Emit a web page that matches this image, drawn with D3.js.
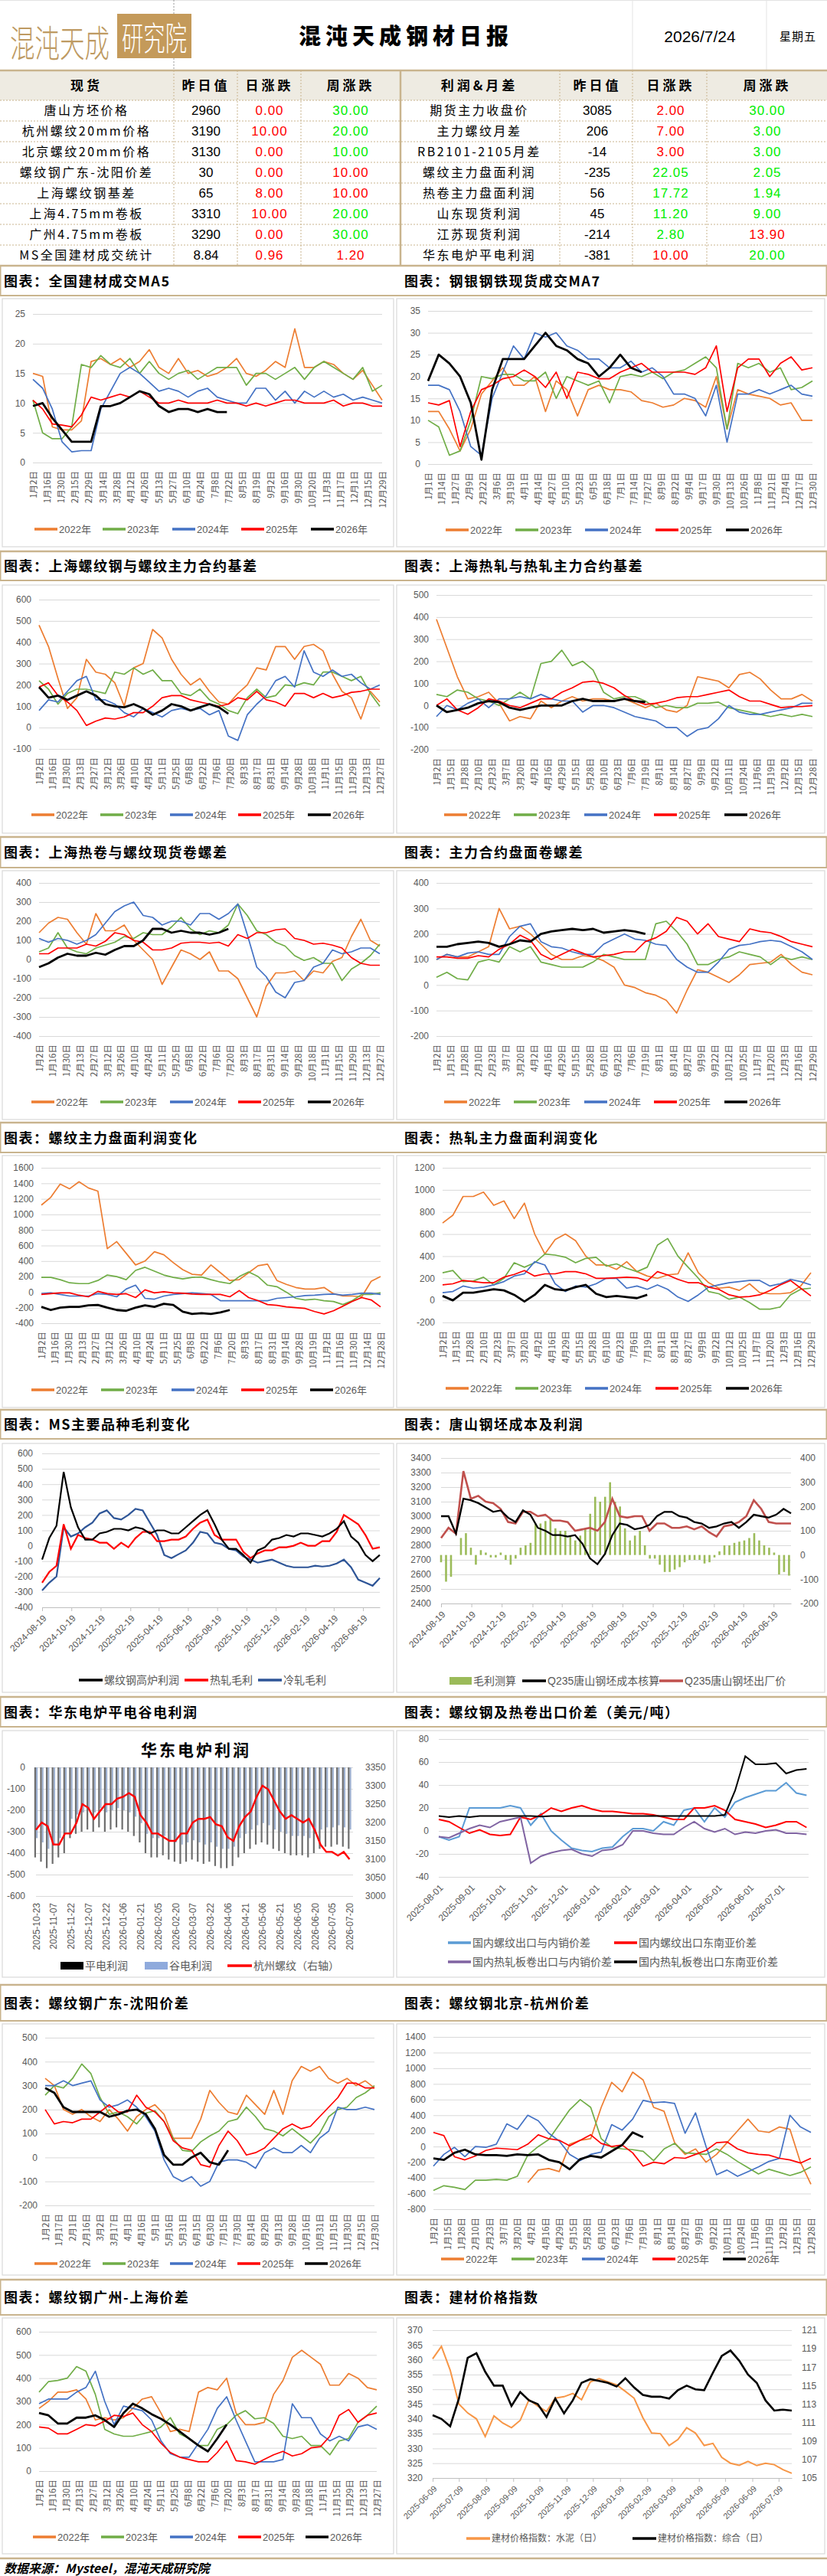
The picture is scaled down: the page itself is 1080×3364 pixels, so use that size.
<!DOCTYPE html>
<html><head><meta charset="utf-8">
<script src="https://cdn.jsdelivr.net/npm/d3@7"></script>
<style>body{margin:0;background:#fff;}svg{display:block;}</style>
</head><body>
<svg id="c" width="1080" height="3364"></svg>
<script>
// ================= DATA =================
const reportDate = "2026/7/24", reportWeekday = "星期五";
const spotNames = ["唐山方坯价格","杭州螺纹20mm价格","北京螺纹20mm价格","螺纹钢广东-沈阳价差","上海螺纹钢基差","上海4.75mm卷板","广州4.75mm卷板","MS全国建材成交统计"];
const spotPrev = ["2960","3190","3130","30","65","3310","3290","8.84"];
const spotDay = [0.00,10.00,0.00,0.00,8.00,10.00,0.00,0.96];
const spotDayDir = [1,1,1,1,1,1,1,1];
const spotWeek = [30.00,20.00,10.00,10.00,10.00,20.00,30.00,1.20];
const spotWeekDir = [-1,-1,-1,1,1,-1,-1,1];
const profNames = ["期货主力收盘价","主力螺纹月差","RB2101-2105月差","螺纹主力盘面利润","热卷主力盘面利润","山东现货利润","江苏现货利润","华东电炉平电利润"];
const profPrev = ["3085","206","-14","-235","56","45","-214","-381"];
const profDay = [2.00,7.00,3.00,22.05,17.72,11.20,2.80,10.00];
const profDayDir = [1,1,1,-1,-1,-1,-1,1];
const profWeek = [30.00,3.00,3.00,2.05,1.94,9.00,13.90,20.00];
const profWeekDir = [-1,-1,-1,-1,-1,-1,1,-1];

const years = [2022,2023,2024,2025,2026];
const labA = ["1月2日","1月16日","1月30日","2月15日","2月29日","3月14日","3月28日","4月12日","4月26日","5月13日","5月27日","6月10日","6月24日","7月8日","7月22日","8月5日","8月19日","9月2日","9月16日","9月30日","10月20日","11月3日","11月17日","12月1日","12月15日","12月29日"];
const labB = ["1月1日","1月14日","1月27日","2月9日","2月22日","3月6日","3月19日","4月1日","4月14日","4月27日","5月10日","5月23日","6月5日","6月18日","7月1日","7月14日","7月27日","8月9日","8月22日","9月4日","9月17日","9月30日","10月13日","10月26日","11月8日","11月21日","12月4日","12月17日","12月30日"];
const labC = ["1月2日","1月16日","1月30日","2月13日","2月27日","3月12日","3月26日","4月10日","4月24日","5月11日","5月25日","6月8日","6月22日","7月6日","7月20日","8月3日","8月17日","8月31日","9月14日","9月28日","10月18日","11月1日","11月15日","11月29日","12月13日","12月27日"];
const labD = ["1月2日","1月15日","1月28日","2月10日","2月23日","3月7日","3月20日","4月2日","4月16日","4月29日","5月15日","5月28日","6月10日","6月23日","7月6日","7月19日","8月1日","8月14日","8月27日","9月9日","9月22日","10月11日","10月24日","11月6日","11月19日","12月2日","12月15日","12月28日"];
const labE = ["1月2日","1月15日","1月28日","2月10日","2月23日","3月7日","3月20日","4月2日","4月16日","4月29日","5月15日","5月28日","6月10日","6月23日","7月6日","7月19日","8月1日","8月14日","8月27日","9月9日","9月22日","10月12日","10月25日","11月7日","11月20日","12月3日","12月16日","12月29日"];
const labF = ["1月2日","1月16日","1月30日","2月13日","2月27日","3月12日","3月26日","4月10日","4月24日","5月11日","5月25日","6月8日","6月22日","7月6日","7月20日","8月3日","8月17日","8月31日","9月14日","9月28日","10月19日","11月2日","11月16日","11月30日","12月14日","12月28日"];
const labG = ["1月2日","1月17日","2月1日","2月16日","3月2日","3月17日","4月1日","4月16日","5月1日","5月16日","5月31日","6月15日","6月30日","7月15日","7月30日","8月14日","8月29日","9月13日","9月28日","10月16日","10月31日","11月15日","11月30日","12月15日","12月30日"];

// 全国建材成交MA5
const c1_2022 = [15,14.5,6,5.5,5.5,7,17,17.5,16.5,17.5,16,17,19,16,15,17.5,15,15.5,14.5,15,16,17.5,15,14.5,15.5,17,16,22.5,16,16,17,16.5,15,14,15.5,13,10.5];
const c1_2023 = [10.5,5,4,4,6,16.5,16,18,16.5,16,17.5,15,17,15,14,15,15.5,14,15,16,16,16,13,15,15,14,15,16,14,16,17,16,15,14,16,12,13];
const c1_2024 = [14,12.5,9,3.5,1.8,2,2,9,12,15,16,15,13.5,12,12.5,12,11,12,12.5,11,10.5,10,10,12.5,12.5,10.5,12,10,12,11,12,11,11.5,10.5,11,10.5,10];
const c1_2025 = [10.5,9,6.5,6.3,6,8,11,10.5,11,11.5,11,12,11,10,10,10.5,10,10,10,10.5,10,10,9.5,10,9.5,10,10.5,10.5,10,10,10,10.5,9.5,10,10,9.5,9.5];
const c1_2026 = [9.5,10,7.5,5.5,3.5,3.5,3.5,9.5,9.5,10,11,12,11.5,9.5,8.5,9,9,8.5,9,8.5,8.5];
// 钢银钢铁现货成交MA7
const c2_2022 = [12,12,8,3,8,16,19,22,18,18,20,12,19,17,11,17,18,17,17,16.5,14.5,14,13,13.5,15,14.5,13,20,8,17,16,15.5,15,13.5,14,10,10];
const c2_2023 = [10,8.5,2,3,10,20,19.5,20.5,20.5,19,19,21,15,20,19,18,19,14,20,20.5,20,21,19.5,21,21.5,23,24.5,22,8,23,22,23,21,22,17,17.5,19];
const c2_2024 = [18,18,17,12,4,2,15,21,27,24,30,29,30,27,26,24,24,22,22,23.5,21,22,20,16,16,15,11,18,5,16,16,17,16,17,18,16,15.5];
const c2_2025 = [14,13.5,14.5,4,12,17,18,19.5,20,21.5,20,17.5,21,15,21,20.5,19.5,19.5,21,22,23,21,21,21,21,20.5,22,27,12,22,24,24,20,23,24.5,21.5,22];
const c2_2026 = [19,25,23,20,14,1,17,24,24,24,27,30,27,26,24,23,20,22,25,22,21];
// 上海螺纹钢与螺纹主力合约基差
const c3_2022 = [480,380,230,90,140,320,260,250,210,100,280,300,460,420,320,250,200,230,170,120,110,160,200,280,270,380,380,320,380,390,360,250,170,140,40,170,120];
const c3_2023 = [220,180,110,160,180,180,170,160,260,250,280,250,270,220,220,160,150,180,130,110,80,65,140,180,140,150,200,195,210,200,260,260,240,220,240,160,100];
const c3_2024 = [80,130,120,170,220,240,130,130,110,70,50,90,70,50,80,90,80,90,60,80,-40,-60,60,110,150,220,240,190,360,260,240,270,240,250,210,180,200];
const c3_2025 = [190,210,150,120,80,10,30,45,40,50,70,70,100,140,150,150,130,120,110,100,110,140,130,170,130,120,100,160,160,140,160,140,150,165,170,180,180];
const c3_2026 = [190,140,150,130,150,170,150,110,100,95,110,90,60,80,110,100,80,95,110,95,65];
// 上海热轧与热轧主力合约基差
const c4_2022 = [390,260,130,30,40,60,10,-70,-50,-60,20,-10,20,40,20,30,30,20,30,10,-10,10,-20,-30,0,130,120,110,80,140,150,120,70,30,30,50,20];
const c4_2023 = [50,40,70,60,30,20,0,30,60,30,190,200,250,180,200,160,60,30,40,40,20,-10,0,-10,-10,10,10,15,-10,-20,-30,-40,-50,-40,-50,-40,-50];
const c4_2024 = [-50,0,-20,10,30,-10,30,30,40,30,50,30,20,20,-30,0,0,-10,-30,-50,-60,-70,-100,-100,-140,-110,-100,-60,0,-30,-40,-40,-30,-20,-10,10,10];
const c4_2025 = [0,30,-20,-40,-10,30,20,0,-10,10,30,30,60,80,105,110,100,80,45,20,5,10,20,35,40,40,50,60,70,40,20,20,5,-10,-5,-5,0];
const c4_2026 = [0,-30,-20,-10,10,20,15,-10,-20,-10,0,0,0,20,30,20,20,20,30,20,15];
// 上海热卷与螺纹现货卷螺差
const c5_2022 = [140,190,220,210,140,80,240,150,150,180,100,50,0,-130,-40,50,30,0,40,-60,-60,-100,-200,-300,-140,-70,-70,-60,-110,-60,-70,-10,10,120,210,100,70];
const c5_2023 = [40,60,140,60,40,30,60,75,90,120,110,140,130,130,170,220,160,130,150,140,180,290,230,150,130,90,70,20,-5,10,-20,-20,-110,-50,-20,20,80];
const c5_2024 = [110,90,110,100,80,100,130,190,250,280,300,230,220,180,200,200,180,240,240,210,240,290,130,-40,-90,-170,-200,-120,-110,-40,-20,50,30,40,60,60,30];
const c5_2025 = [30,30,60,60,60,80,70,95,140,130,100,90,50,50,60,85,90,90,85,90,70,130,110,140,140,155,160,110,100,80,85,75,60,10,-20,-30,-30];
const c5_2026 = [-40,-20,10,30,20,20,35,25,50,70,70,100,160,160,140,150,140,140,130,140,160];
// 主力合约盘面卷螺差
const c6_2022 = [100,120,110,110,130,150,300,220,230,200,160,120,100,100,115,110,95,70,0,-10,-30,-40,-60,-110,-20,60,50,30,10,40,80,85,90,120,80,50,40];
const c6_2023 = [30,50,25,20,90,100,90,150,130,150,90,80,70,70,70,90,120,110,100,100,100,240,250,210,160,80,80,100,110,130,120,110,80,110,100,110,100];
const c6_2024 = [100,120,110,125,130,120,120,190,230,240,170,150,145,130,120,120,160,180,200,180,175,160,155,100,70,50,50,90,140,155,160,170,175,170,150,130,100];
const c6_2025 = [110,110,105,105,115,110,140,160,195,175,120,100,120,140,125,110,115,120,130,130,170,185,210,265,250,200,240,190,180,170,220,210,205,190,170,160,150];
const c6_2026 = [150,150,160,165,170,165,150,160,175,170,200,210,215,220,215,220,205,210,215,210,200];
// 螺纹主力盘面利润变化
const c7_2022 = [1120,1220,1390,1330,1420,1340,1300,560,650,500,350,400,520,480,380,290,230,220,350,250,150,160,250,340,360,150,100,60,40,40,60,-20,-50,-50,-60,140,200];
const c7_2023 = [190,190,160,120,110,110,150,220,200,160,280,320,270,220,190,170,190,195,160,130,110,200,260,200,90,70,0,-80,-100,-90,-110,-120,-160,-110,-30,-30,-10];
const c7_2024 = [-20,-10,-30,-50,-50,-50,-20,-30,-60,40,90,-80,-90,-50,-30,-20,-10,-20,-30,-110,-110,-110,-110,-110,-110,-80,-70,-60,-45,-40,-30,-25,-40,-30,-15,-15,-30];
const c7_2025 = [-30,-20,-10,-10,-40,-60,10,-20,-30,-20,-70,30,-10,5,-10,-15,-25,-30,-30,-30,-60,20,-70,-110,-160,-170,-190,-200,-210,-250,-280,-240,-180,-120,-70,-100,-190];
const c7_2026 = [-190,-230,-200,-190,-190,-170,-165,-200,-230,-240,-200,-170,-190,-150,-165,-250,-280,-270,-280,-260,-230];
// 热轧主力盘面利润变化
const c8_2022 = [700,770,940,940,980,860,900,740,880,600,420,550,600,540,400,320,320,280,350,260,220,200,230,240,430,250,160,110,120,90,150,70,60,60,70,130,250];
const c8_2023 = [250,270,170,175,210,140,200,340,300,340,420,410,390,340,380,390,310,330,290,260,300,500,560,400,300,200,80,60,10,30,-20,-80,-80,-60,50,100,110];
const c8_2024 = [70,80,130,110,120,140,170,220,240,350,320,150,80,130,120,150,200,200,110,130,100,140,100,30,-10,50,120,140,160,170,180,180,130,150,190,170,140];
const c8_2025 = [140,150,180,170,160,160,210,235,270,220,240,240,260,260,240,200,200,205,210,205,175,260,230,190,160,160,120,100,50,30,35,50,90,140,180,110,40];
const c8_2026 = [40,0,70,70,85,100,90,50,-10,50,140,100,90,120,140,60,30,40,30,20,50];
// MS主要品种毛利变化 (2024-08-19 起，约15天一个点)
const msStart = "2024-08-19", msEnd = "2026-07-24";
const msRebarBF = [-90,50,130,480,250,120,40,40,80,90,110,110,100,120,110,80,100,100,80,80,120,160,200,230,140,40,-20,-20,-60,-110,-30,-10,40,50,70,60,80,80,70,60,80,110,160,60,20,-60,-100,-60];
const msHotRolled = [-240,-170,-130,140,-20,70,50,40,20,20,-20,20,-10,50,90,90,30,30,40,40,60,110,150,170,70,40,40,40,-40,-80,-50,-30,-30,-10,-10,0,20,0,0,30,30,90,200,170,140,70,-20,-10];
const msColdRolled = [-290,-240,-200,120,60,80,120,150,210,230,180,170,200,240,230,150,70,-60,-80,-55,-30,20,90,80,20,10,-20,-30,-70,-90,-110,-100,-90,-110,-130,-140,-140,-140,-130,-135,-130,-115,-90,-140,-220,-240,-260,-210];
// 唐山钢坯成本及利润
const tsCost = [3000,3000,2880,3120,3110,3090,3060,3030,3040,2990,2960,3040,3010,2920,2900,2870,2870,2860,2870,2810,2710,2670,2740,2870,2950,2940,2910,2920,2940,3000,3030,3030,3000,2990,2960,2950,2920,2930,2950,2960,2920,2960,3010,3000,2990,3010,3050,3020];
const tsPrice = [2850,2920,2880,3310,3120,3140,3100,3090,3050,2960,2950,3030,3030,3000,3010,2970,2970,2960,2900,2910,2920,2900,2960,3120,3000,2990,3000,3000,2900,2950,2950,2920,2920,2930,2910,2930,2890,2860,2930,2940,2960,3000,3110,3050,2960,2950,2950,2950];
const tsMargin = [-30,-110,-90,0,70,90,30,-40,20,10,-10,-10,10,-20,-40,-15,30,40,50,130,130,140,150,110,100,100,80,60,80,110,170,240,220,240,300,220,200,110,60,80,100,40,-15,-15,-40,-70,-70,-60,-50,-30,-20,-20,-20,-35,-30,-10,15,40,40,50,55,60,70,90,60,40,30,10,-80,-70,-85];
// 华东电炉平电谷电利润 (2025-10-23 起，5天一个点)
const eafStart = "2025-10-23";
const eafFlat = [-420,-440,-470,-450,-420,-400,-330,-310,-300,-290,-300,-280,-300,-290,-280,-290,-300,-320,-350,-400,-420,-420,-410,-430,-440,-450,-440,-430,-440,-450,-440,-460,-470,-470,-460,-420,-400,-380,-360,-350,-360,-380,-390,-400,-410,-410,-410,-420,-400,-380,-370,-370,-360,-370,-380];
const eafValley = [-330,-350,-380,-360,-330,-310,-240,-220,-210,-200,-210,-190,-210,-200,-190,-200,-210,-230,-260,-310,-330,-330,-320,-340,-350,-360,-350,-340,-350,-360,-350,-370,-380,-380,-370,-330,-310,-290,-270,-260,-270,-290,-300,-310,-320,-320,-320,-330,-310,-290,-280,-280,-270,-280,-290];
const eafRebarHZ = [3180,3200,3190,3140,3140,3170,3170,3200,3250,3240,3210,3230,3250,3250,3265,3270,3280,3270,3220,3200,3170,3170,3160,3150,3150,3170,3170,3200,3210,3210,3215,3195,3190,3160,3150,3190,3215,3230,3270,3300,3290,3260,3230,3210,3220,3210,3200,3210,3180,3140,3120,3120,3110,3120,3100];
// 螺纹钢及热卷出口价差 (2025-08-01 起，10天一个点)
const expStart = "2025-08-01";
const expRebarDom = [-5,-8,-5,20,20,20,20,22,20,5,15,0,-8,-15,-17,-18,-15,-14,-5,2,2,0,8,5,18,20,8,20,12,25,29,32,35,35,42,33,31];
const expRebarSEA = [10,8,3,-2,1,-3,-4,-3,12,10,14,20,17,20,22,19,17,17,16,15,15,14,12,10,10,20,20,22,18,10,8,6,3,5,8,8,3];
const expHotDom = [-5,-6,-2,2,5,3,8,10,12,-28,-22,-19,-17,-16,-20,-22,-17,-16,-12,0,0,-2,-3,-3,3,8,2,-1,2,-3,-1,-2,0,1,-2,-2,-3];
const expHotSEA = [13,12,13,12,13,13,13,13,13,13,12.5,13,13,13,13,13,13,13,13,13,13,13,13,13,13,13,13,13,14,35,65,58,58,59,50,53,54];
// 螺纹钢广东-沈阳价差
const c13_2022 = [330,300,200,180,200,170,150,200,160,110,170,200,220,180,80,80,80,160,280,230,190,180,260,220,180,280,180,320,380,360,380,330,310,330,300,320,290];
const c13_2023 = [260,300,290,330,390,350,250,180,190,170,140,185,195,150,80,30,25,65,90,110,150,160,210,170,120,110,90,120,90,60,100,170,200,210,250,270,300];
const c13_2024 = [300,300,320,300,310,320,240,210,220,240,210,170,110,-10,-80,-100,-80,-120,-100,-20,-10,-10,-20,-45,20,40,20,20,50,20,80,110,210,200,200,210,200];
const c13_2025 = [200,140,150,145,160,160,190,220,190,190,260,210,190,150,70,40,30,-30,-40,50,110,70,10,20,40,80,120,140,120,130,170,210,250,310,310,290,290];
const c13_2026 = [290,270,210,190,190,190,190,170,180,195,200,180,120,10,-30,-30,0,20,-20,-30,30];
// 螺纹钢北京-杭州价差
const c14_2022 = [null,null,null,null,null,null,null,null,null,-460,-300,-280,-320,30,80,100,500,820,700,950,850,500,450,50,-100,-30,-200,-100,50,200,350,200,180,250,220,-200,-480];
const c14_2023 = [-560,-500,-520,-550,-430,-430,-420,-430,-380,-110,0,90,280,470,600,500,100,-10,-30,-40,-60,-180,-30,40,-80,-90,-100,-30,-100,-190,-270,-350,-290,-330,-370,-330,-260];
const c14_2024 = [-250,-100,-10,-130,0,-10,30,290,220,400,330,170,70,-100,-180,-100,-70,280,210,350,590,560,570,550,170,430,0,-360,-300,-380,-320,-260,-190,-150,400,250,180];
const c14_2025 = [180,140,-130,-170,-120,-50,-20,-30,-40,30,150,100,80,10,80,150,40,0,20,-80,-250,-200,-220,-140,-150,-100,-50,50,60,-30,-80,-100,-110,-150,-170,-210,-150];
const c14_2026 = [-150,-170,-80,-40,-100,-110,-110,-120,-100,-110,-100,-170,-200,-290,-160,-120,-140,-60,20,180,120];
// 螺纹钢广州-上海价差
const c15_2022 = [270,300,340,340,350,310,220,230,220,230,270,310,320,250,170,180,170,340,360,350,400,250,200,200,210,330,390,490,520,490,460,370,370,420,400,360,350];
const c15_2023 = [340,385,390,400,450,430,330,180,160,150,150,160,170,190,230,160,140,110,110,180,200,240,260,225,230,205,150,140,150,110,110,70,130,140,210,240,280];
const c15_2024 = [290,310,310,310,340,360,430,300,200,280,270,260,220,130,75,60,60,120,180,270,320,220,130,40,40,40,50,290,230,230,160,130,150,130,190,200,180];
const c15_2025 = [190,185,160,160,180,200,195,215,240,235,250,200,170,120,80,60,50,40,40,80,130,45,40,30,50,70,85,65,75,100,105,150,240,265,210,240,250];
const c15_2026 = [250,240,205,205,230,230,240,220,190,250,290,270,245,225,200,170,140,110,85,140,200];
// 建材价格指数 (2025-06-09 起，10天一个点)
const idxStart = "2025-06-09";
const idxCement = [360.3,364.5,356.5,345,342,340,334,341,338.6,337,339.5,346.5,344.3,342.5,347,347.5,348.6,346.5,352.5,353.6,352.5,351.5,349.3,347,340.4,335.2,335,331,333,337,335.2,331,331.7,327,325,324.3,325.6,324.2,325,324.5,322.8,321.6];
const idxComposite = [111.8,111.4,110.6,113.6,118,118.5,116.5,115,115,112.8,114.3,113.4,113,111.6,113.6,112,113.4,115.3,115.7,115.5,115.3,114.9,115.8,114.8,114,113.8,113.8,113.6,114.5,115,114.6,114.5,116.4,118.2,118.8,117.7,116.2,115.3,113.4,112.3,112.4,112.3];

const sectionTitles = [
 ["图表：全国建材成交MA5","图表：钢银钢铁现货成交MA7"],
 ["图表：上海螺纹钢与螺纹主力合约基差","图表：上海热轧与热轧主力合约基差"],
 ["图表：上海热卷与螺纹现货卷螺差","图表：主力合约盘面卷螺差"],
 ["图表：螺纹主力盘面利润变化","图表：热轧主力盘面利润变化"],
 ["图表：MS主要品种毛利变化","图表：唐山钢坯成本及利润"],
 ["图表：华东电炉平电谷电利润","图表：螺纹钢及热卷出口价差（美元/吨）"],
 ["图表：螺纹钢广东-沈阳价差","图表：螺纹钢北京-杭州价差"],
 ["图表：螺纹钢广州-上海价差","图表：建材价格指数"]
];

// ================= RENDER =================
const W = 1080;
const svg = d3.select('#c');
const FN = '"Liberation Sans","Noto Sans CJK SC",sans-serif';
const FC = '"Noto Sans CJK SC","Noto Sans",sans-serif';
const TAN = '#C9B48E', GRID = '#D9D9D9', LAB = '#595959';
const YC = {2022:'#ED7D31',2023:'#70AD47',2024:'#4472C4',2025:'#FF0000',2026:'#000000'};
const RED = '#FF0000', GREEN = '#00EE00';
const parse = d3.timeParse('%Y-%m-%d');

function txt(x,y,s,o={}){
  return svg.append('text').attr('x',x).attr('y',y).attr('dy','0.35em')
    .attr('text-anchor',o.anchor||'start').attr('fill',o.fill||'#000')
    .style('font-family',o.font||FC).style('font-size',(o.size||14)+'px')
    .style('font-weight',o.weight||400).style('letter-spacing',(o.ls||0)+'px')
    .style('font-style',o.italic?'italic':'normal').text(s);
}
function ln(x1,y1,x2,y2,c,w,dash){
  const l=svg.append('line').attr('x1',x1).attr('y1',y1).attr('x2',x2).attr('y2',y2).attr('stroke',c).attr('stroke-width',w);
  if(dash) l.attr('stroke-dasharray',dash);
  return l;
}

// ---- header ----
ln(0,0.5,W,0.5,'#E3E3E3',1);
ln(227,0,227,92,'#9A9A9A',1,'2,2');
ln(826,0,826,92,'#E3E3E3',1);
ln(1001,0,1001,92,'#E3E3E3',1);
svg.append('g').attr('transform','translate(13,74) scale(1,1.25)')
  .append('text').attr('x',0).attr('y',0).attr('textLength',130).attr('lengthAdjust','spacingAndGlyphs')
  .attr('fill','#BE9A62').style('font-family',FC).style('font-size','38px').style('font-weight',300).text('混沌天成');
svg.append('rect').attr('x',153).attr('y',18).attr('width',97).attr('height',58).attr('fill','#C49A5A');
svg.append('g').attr('transform','translate(159,66) scale(1,1.2)')
  .append('text').attr('x',0).attr('y',0).attr('textLength',85).attr('lengthAdjust','spacingAndGlyphs')
  .attr('fill','#fff').style('font-family',FC).style('font-size','36px').style('font-weight',300).text('研究院');
svg.append('text').attr('x',390).attr('y',58).attr('textLength',274).attr('lengthAdjust','spacing')
  .attr('fill','#000').style('font-family',FC).style('font-size','29px').style('font-weight',900).text('混沌天成钢材日报');
txt(914,48,reportDate,{anchor:'middle',size:21,font:FN});
txt(1042,48,reportWeekday,{anchor:'middle',size:15,ls:1});

// ---- table ----
svg.append('rect').attr('x',0).attr('y',92).attr('width',W).attr('height',39).attr('fill','#EEEBE2');
ln(0,92,W,92,TAN,2.5);
const rowH = 27, tTop = 131;
for(let i=0;i<=8;i++) ln(0,tTop+i*rowH,W,tTop+i*rowH,TAN,1,'2,2');
[227,310,393,731,826,923].forEach(x=>ln(x,92,x,347,TAN,1,'2,2'));
ln(523,92,523,347,TAN,2.5);
const hdrL = [["现货",113],["昨日值",269],["日涨跌",352],["周涨跌",458]];
const hdrR = [["利润&月差",626],["昨日值",780],["日涨跌",876],["周涨跌",1002]];
hdrL.concat(hdrR).forEach(h=>txt(h[1],112,h[0],{anchor:'middle',size:17,weight:700,ls:4}));
function tableRows(names,prev,day,dayDir,week,weekDir,cx){
  names.forEach((n,i)=>{
    const y=tTop+i*rowH+rowH/2;
    txt(cx[0],y,n,{anchor:'middle',size:16,ls:2.5});
    txt(cx[1],y,prev[i],{anchor:'middle',size:17,font:FN});
    txt(cx[2],y,day[i].toFixed(2),{anchor:'middle',size:17,font:FN,ls:1,fill:dayDir[i]>0?RED:GREEN});
    txt(cx[3],y,week[i].toFixed(2),{anchor:'middle',size:17,font:FN,ls:1,fill:weekDir[i]>0?RED:GREEN});
  });
}
tableRows(spotNames,spotPrev,spotDay,spotDayDir,spotWeek,spotWeekDir,[113,269,352,458]);
tableRows(profNames,profPrev,profDay,profDayDir,profWeek,profWeekDir,[626,780,876,1002]);

// ---- sections ----
const secs = [
 {top:347,bot:386,b0:390,b1:714},{top:720,bot:758,b0:764,b1:1088},{top:1093,bot:1133,b0:1137,b1:1462},
 {top:1466,bot:1505,b0:1509,b1:1838},{top:1841,bot:1879,b0:1885,b1:2210},{top:2216,bot:2255,b0:2260,b1:2582},
 {top:2592,bot:2639,b0:2643,b1:2971},{top:2977,bot:3023,b0:3027,b1:3335}
];
secs.forEach((s,i)=>{
  svg.append('rect').attr('x',0.75).attr('y',s.top).attr('width',W-1.5).attr('height',s.bot-s.top)
    .attr('fill','#fff').attr('stroke',TAN).attr('stroke-width',1.5);
  ln(0,s.top,W,s.top,TAN,2.5);
  ln(0,s.bot,W,s.bot,TAN,2);
  const ty=(s.top+s.bot)/2+1;
  txt(5,ty,sectionTitles[i][0],{size:18,weight:700,ls:1.5});
  txt(528,ty,sectionTitles[i][1],{size:18,weight:700,ls:1.5});
  svg.append('rect').attr('x',3).attr('y',s.b0).attr('width',511).attr('height',s.b1-s.b0)
    .attr('fill','#fff').attr('stroke','#D9D9D9').attr('stroke-width',1.2);
  svg.append('rect').attr('x',518).attr('y',s.b0).attr('width',559).attr('height',s.b1-s.b0)
    .attr('fill','#fff').attr('stroke','#D9D9D9').attr('stroke-width',1.2);
});

// ---- helpers ----
function leftAxis(y,ticks,x0,x1,xLab){
  const g=svg.append('g').attr('transform',`translate(${x0},0)`)
    .call(d3.axisLeft(y).tickValues(ticks).tickSize(-(x1-x0)).tickPadding(x0-xLab).tickFormat(d=>String(d)));
  g.select('.domain').remove();
  g.selectAll('.tick line').attr('stroke',GRID).attr('stroke-width',1);
  g.selectAll('.tick text').attr('fill',LAB).style('font-family',FN).style('font-size','12px');
  return g;
}
function rightLabels(y,ticks,xLab){
  const g=svg.append('g').attr('transform',`translate(${xLab},0)`)
    .call(d3.axisRight(y).tickValues(ticks).tickSize(0).tickPadding(0).tickFormat(d=>String(d)));
  g.select('.domain').remove();
  g.selectAll('.tick text').attr('fill',LAB).style('font-family',FN).style('font-size','12px');
}
function swLine(x,y,c,t,w,sw,fs){
  ln(x,y,x+(w||30),y,c,sw||3.5);
  txt(x+(w||30)+2,y,t,{size:fs||13,fill:LAB,font:FN});
}
function swRect(x,y,c,t,w,fs){
  svg.append('rect').attr('x',x).attr('y',y-5).attr('width',w||30).attr('height',10).attr('fill',c);
  txt(x+(w||30)+2,y,t,{size:fs||13,fill:LAB,font:FN});
}
function yearChart(o){
  const y=d3.scaleLinear().domain([o.min,o.max]).range([o.yB,o.yT]);
  leftAxis(y,d3.range(o.min,o.max+o.step/2,o.step),o.x0,o.x1,o.x0-10);
  const xs=d3.scaleLinear().domain([0,36]).range([o.x0,o.x1]);
  const lp=d3.scalePoint().domain(o.labels).range([o.x0,o.x1]);
  const g=svg.append('g').attr('transform',`translate(0,${o.yB})`).call(d3.axisBottom(lp).tickSize(0));
  g.select('.domain').remove();
  g.selectAll('text').attr('transform','rotate(-90)').attr('text-anchor','end')
    .attr('x',-11).attr('y',0).attr('dy','0.35em').attr('fill',LAB).style('font-family',FC).style('font-size','11.5px');
  const line=d3.line().defined(d=>d!=null).x((d,i)=>xs(i)).y(d=>y(d));
  o.data.forEach((arr,i)=>{
    svg.append('path').datum(arr).attr('d',line).attr('fill','none')
      .attr('stroke',YC[years[i]]).attr('stroke-width',years[i]===2026?2.8:1.7).attr('stroke-linejoin','round');
  });
  years.forEach((yr,i)=>swLine(o.legX[i],o.legY,YC[yr],yr+'年'));
}
function dateAxis(x,yPos,vals,rot,withLine,fs){
  const g=svg.append('g').attr('transform',`translate(0,${yPos})`)
    .call(d3.axisBottom(x).tickValues(vals).tickFormat(d3.timeFormat('%Y-%m-%d')).tickSize(withLine?5:0).tickSizeOuter(0));
  g.select('.domain').attr('stroke',withLine?'#BFBFBF':'none');
  g.selectAll('.tick line').attr('stroke','#BFBFBF');
  g.selectAll('text').attr('fill',LAB).style('font-family',FN).style('font-size',(fs||11.5)+'px');
  if(rot===-45) g.selectAll('text').attr('text-anchor','end').attr('x',0).attr('y',0).attr('dy','0.35em').attr('transform','translate(3,12) rotate(-45)');
  else g.selectAll('text').attr('text-anchor','end').attr('x',-9).attr('y',0).attr('dy','0.35em').attr('transform','rotate(-90)');
}
const LL=[45,134,225,315,406], LR=[582,673,764,856,948];

// ---- year charts ----
yearChart({x0:43,x1:499,yT:410,yB:604,min:0,max:25,step:5,labels:labA,data:[c1_2022,c1_2023,c1_2024,c1_2025,c1_2026],legY:691,legX:LL});
yearChart({x0:559,x1:1061,yT:406,yB:606,min:0,max:35,step:5,labels:labB,data:[c2_2022,c2_2023,c2_2024,c2_2025,c2_2026],legY:692,legX:LR});
yearChart({x0:51,x1:496,yT:783,yB:978,min:-100,max:600,step:100,labels:labC,data:[c3_2022,c3_2023,c3_2024,c3_2025,c3_2026],legY:1064,legX:[41,131,222,311,402]});
yearChart({x0:570,x1:1061,yT:777,yB:979,min:-200,max:500,step:100,labels:labD,data:[c4_2022,c4_2023,c4_2024,c4_2025,c4_2026],legY:1064,legX:[580,671,763,854,946]});
yearChart({x0:51,x1:496,yT:1153,yB:1353,min:-400,max:400,step:100,labels:labC,data:[c5_2022,c5_2023,c5_2024,c5_2025,c5_2026],legY:1439,legX:[41,131,222,311,402]});
yearChart({x0:570,x1:1061,yT:1153,yB:1353,min:-200,max:400,step:100,labels:labE,data:[c6_2022,c6_2023,c6_2024,c6_2025,c6_2026],legY:1439,legX:[580,671,763,854,946]});
yearChart({x0:54,x1:497,yT:1525,yB:1728,min:-400,max:1600,step:200,labels:labF,data:[c7_2022,c7_2023,c7_2024,c7_2025,c7_2026],legY:1815,legX:[41,132,224,315,405]});
yearChart({x0:578,x1:1059,yT:1525,yB:1727,min:-200,max:1200,step:200,labels:labE,data:[c8_2022,c8_2023,c8_2024,c8_2025,c8_2026],legY:1813,legX:LR});
yearChart({x0:59,x1:489,yT:2661,yB:2880,min:-200,max:500,step:100,labels:labG,data:[c13_2022,c13_2023,c13_2024,c13_2025,c13_2026],legY:2956,legX:[45,134,222,310,398]});
yearChart({x0:566,x1:1059,yT:2660,yB:2885,min:-800,max:1400,step:200,labels:labD,data:[c14_2022,c14_2023,c14_2024,c14_2025,c14_2026],legY:2950,legX:[576,668,760,852,944]});
yearChart({x0:51,x1:492,yT:3045,yB:3227,min:0,max:600,step:100,labels:labC,data:[c15_2022,c15_2023,c15_2024,c15_2025,c15_2026],legY:3313,legX:[43,132,222,311,399]});

// ---- MS 毛利 ----
(function(){
  const s=parse(msStart), e=parse(msEnd);
  const x=d3.scaleTime().domain([s,e]).range([55,496]);
  const y=d3.scaleLinear().domain([-400,600]).range([2099,1898]);
  leftAxis(y,d3.range(-400,601,100),55,496,43);
  const n=msRebarBF.length, span=(e-s)/(n-1);
  const dates=d3.range(n).map(k=>new Date(+s+k*span));
  dateAxis(x,2099,d3.range(12).map(i=>new Date(2024,7+2*i,19)),-45,true,12);
  const line=d3.line().x((d,i)=>x(dates[i])).y(d=>y(d));
  [[msColdRolled,'#2E5597'],[msHotRolled,'#FF0000'],[msRebarBF,'#000000']].forEach(p=>
    svg.append('path').datum(p[0]).attr('d',line).attr('fill','none').attr('stroke',p[1]).attr('stroke-width',2.2));
  swLine(103,2194,'#000','螺纹钢高炉利润',31,3.5,14);
  swLine(241,2194,'#FF0000','热轧毛利',31,3.5,14);
  swLine(337,2194,'#2E5597','冷轧毛利',31,3.5,14);
})();

// ---- 唐山钢坯 ----
(function(){
  const s=parse(msStart), e=parse(msEnd);
  const x=d3.scaleTime().domain([s,e]).range([576,1033]);
  const yL=d3.scaleLinear().domain([2400,3400]).range([2094,1904]);
  const yR=d3.scaleLinear().domain([-200,400]).range([2094,1904]);
  leftAxis(yL,d3.range(2400,3401,100),576,1033,563);
  rightLabels(yR,d3.range(-200,401,100),1045);
  dateAxis(x,2094,d3.range(12).map(i=>new Date(2024,7+2*i,19)),-45,true,12);
  const bd=d3.range(tsMargin.length).map(k=>d3.timeDay.offset(s,k*10));
  svg.append('g').selectAll('rect').data(tsMargin).join('rect')
    .attr('x',(d,i)=>x(bd[i])-1.3).attr('width',2.6)
    .attr('y',d=>Math.min(yR(d),yR(0))).attr('height',d=>Math.abs(yR(d)-yR(0)))
    .attr('fill','#9BBB59');
  const n=tsCost.length, span=(e-s)/(n-1);
  const dates=d3.range(n).map(k=>new Date(+s+k*span));
  const line=d3.line().x((d,i)=>x(dates[i])).y(d=>yL(d));
  svg.append('path').datum(tsPrice).attr('d',line).attr('fill','none').attr('stroke','#C0504D').attr('stroke-width',2.6);
  svg.append('path').datum(tsCost).attr('d',line).attr('fill','none').attr('stroke','#000').attr('stroke-width',2.3);
  swRect(587,2195,'#9BBB59','毛利测算',29,14);
  swLine(682,2195,'#000','Q235唐山钢坯成本核算',31,3.5,14);
  swLine(861,2195,'#C0504D','Q235唐山钢坯出厂价',31,3.5,14);
})();

// ---- 华东电炉 ----
(function(){
  const s=parse(eafStart);
  const x=d3.scaleTime().domain([s,new Date(2026,6,23)]).range([47,461]);
  const yL=d3.scaleLinear().domain([-600,0]).range([2476,2308]);
  const yR=d3.scaleLinear().domain([3000,3350]).range([2476,2308]);
  leftAxis(yL,d3.range(-600,1,100),47,461,33);
  rightLabels(yR,d3.range(3000,3351,50),477);
  dateAxis(x,2476,d3.range(19).map(i=>d3.timeDay.offset(s,15*i)),-90,false,12);
  txt(256,2286,'华东电炉利润',{anchor:'middle',size:21,weight:700,ls:3});
  const dd=d3.range(eafFlat.length).map(k=>d3.timeDay.offset(s,5*k));
  svg.append('g').selectAll('rect').data(eafValley).join('rect')
    .attr('x',(d,i)=>x(dd[i])).attr('width',2.2).attr('y',yL(0)).attr('height',d=>yL(d)-yL(0)).attr('fill','#9DB0D0');
  svg.append('g').selectAll('rect').data(eafFlat).join('rect')
    .attr('x',(d,i)=>x(dd[i])-2.2).attr('width',2.2).attr('y',yL(0)).attr('height',d=>yL(d)-yL(0)).attr('fill','#6E6E6E');
  const line=d3.line().x((d,i)=>x(dd[i])).y(d=>yR(d));
  svg.append('path').datum(eafRebarHZ).attr('d',line).attr('fill','none').attr('stroke','#FF0000').attr('stroke-width',2.4);
  swRect(79,2567,'#000','平电利润',30,14);
  swRect(189,2567,'#8FAADC','谷电利润',30,14);
  swLine(297,2567,'#FF0000','杭州螺纹（右轴）',32,3.5,14);
})();

// ---- 出口价差 ----
(function(){
  const s=parse(expStart);
  const x=d3.scaleTime().domain([s,new Date(2026,6,29)]).range([573,1056]);
  const y=d3.scaleLinear().domain([-40,80]).range([2451,2271]);
  leftAxis(y,d3.range(-40,81,20),573,1056,560);
  dateAxis(x,2451,d3.range(12).map(i=>new Date(2025,7+i,1)),-45,false,12);
  const dd=d3.range(expRebarDom.length).map(k=>d3.timeDay.offset(s,10*k));
  const line=d3.line().x((d,i)=>x(dd[i])).y(d=>y(d));
  [[expRebarDom,'#5B9BD5'],[expRebarSEA,'#FF0000'],[expHotDom,'#8064A2'],[expHotSEA,'#000']].forEach(p=>
    svg.append('path').datum(p[0]).attr('d',line).attr('fill','none').attr('stroke',p[1]).attr('stroke-width',2));
  swLine(585,2537,'#5B9BD5','国内螺纹出口与内销价差',30,3.5,14);
  swLine(802,2537,'#FF0000','国内螺纹出口东南亚价差',30,3.5,14);
  swLine(585,2562,'#8064A2','国内热轧板卷出口与内销价差',30,3.5,14);
  swLine(802,2562,'#000','国内热轧板卷出口东南亚价差',30,3.5,14);
})();

// ---- 建材价格指数 ----
(function(){
  const s=parse(idxStart);
  const x=d3.scaleTime().domain([s,new Date(2026,6,24)]).range([565,1034]);
  const yL=d3.scaleLinear().domain([320,370]).range([3236,3043]);
  const yR=d3.scaleLinear().domain([105,121]).range([3236,3043]);
  leftAxis(yL,d3.range(320,371,5),565,1034,552);
  rightLabels(yR,d3.range(105,122,2),1047);
  dateAxis(x,3236,d3.range(14).map(i=>new Date(2025,5+i,9)),-45,true,11);
  const dd=d3.range(idxCement.length).map(k=>d3.timeDay.offset(s,10*k));
  svg.append('path').datum(idxCement).attr('d',d3.line().x((d,i)=>x(dd[i])).y(d=>yL(d)))
    .attr('fill','none').attr('stroke','#F79646').attr('stroke-width',2);
  svg.append('path').datum(idxComposite).attr('d',d3.line().x((d,i)=>x(dd[i])).y(d=>yR(d)))
    .attr('fill','none').attr('stroke','#000').attr('stroke-width',2.6);
  swLine(609,3315,'#F79646','建材价格指数：水泥（日）',31,3.5,12);
  swLine(826,3315,'#000','建材价格指数：综合（日）',31,3.5,12);
})();

// ---- footer ----
ln(0,3341,W,3341,TAN,2.5);
txt(5,3354,'数据来源：Mysteel，混沌天成研究院',{size:16,weight:700,italic:true});
</script>
</body></html>
